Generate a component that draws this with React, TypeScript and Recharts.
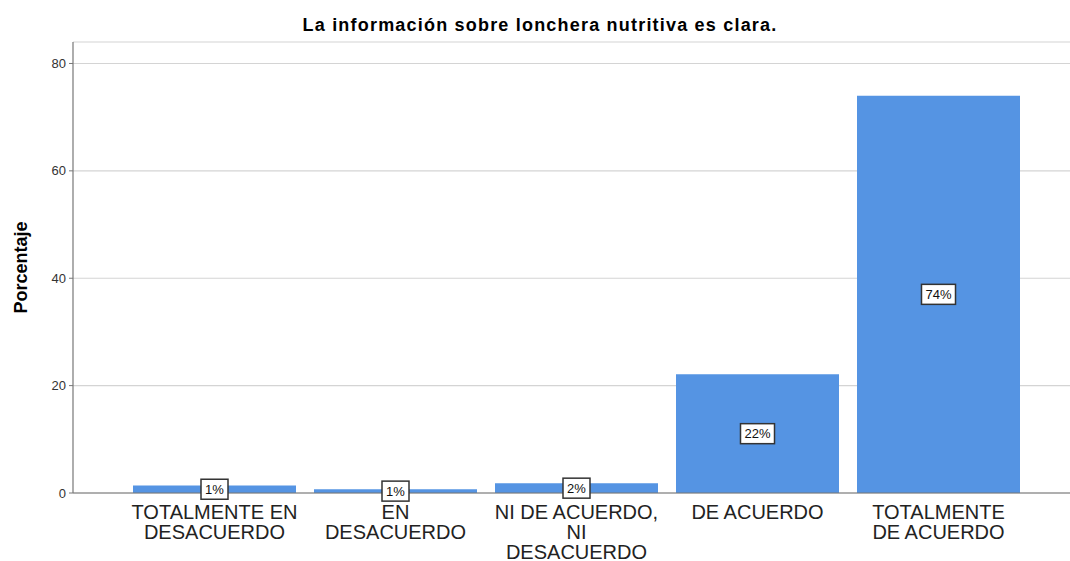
import React from 'react';
import { BarChart, Bar, XAxis, YAxis, CartesianGrid, LabelList } from 'recharts';

const categories = [
  'TOTALMENTE EN DESACUERDO',
  'EN DESACUERDO',
  'NI DE ACUERDO, NI DESACUERDO',
  'DE ACUERDO',
  'TOTALMENTE DE ACUERDO',
];
const tickLines = [
  ['TOTALMENTE EN', 'DESACUERDO'],
  ['EN', 'DESACUERDO'],
  ['NI DE ACUERDO,', 'NI', 'DESACUERDO'],
  ['DE ACUERDO'],
  ['TOTALMENTE', 'DE ACUERDO'],
];
const percentages = [1.4, 0.7, 1.8, 22.1, 74.0];
const yTicks = [0, 20, 40, 60, 80];

const data = categories.map((c, i) => ({ name: c, value: percentages[i] }));

const FONT = '"Liberation Sans", Arial, sans-serif';

const XTick = (props: any) => {
  const { x, y, payload } = props;
  const lines = tickLines[payload.index] || [String(payload.value)];
  return (
    <text x={x} y={y} textAnchor="middle" fontFamily={FONT} fontSize={20} fill="#222">
      {lines.map((l: string, i: number) => (
        <tspan key={i} x={x} y={y + 26 + i * 20}>
          {l}
        </tspan>
      ))}
    </text>
  );
};

const ValueLabel = (props: any) => {
  const { x, y, width, height, value } = props;
  const cx = x + width / 2;
  const cy = y + height / 2;
  const txt = `${Math.round(value)}%`;
  const w = txt.length > 2 ? 34 : 27;
  const h = 20;
  return (
    <g>
      <rect x={cx - w / 2} y={cy - h / 2} width={w} height={h} fill="#fff" stroke="#333" strokeWidth={1.5} />
      <text x={cx} y={cy} textAnchor="middle" dominantBaseline="central" fontFamily={FONT} fontSize={13} fill="#111">
        {txt}
      </text>
    </g>
  );
};

const YLabel = (props: any) => {
  const { viewBox } = props;
  const cx = 21;
  const cy = viewBox.y + viewBox.height / 2;
  return (
    <text
      x={cx}
      y={cy}
      transform={`rotate(-90, ${cx}, ${cy})`}
      textAnchor="middle"
      dominantBaseline="central"
      fontFamily={FONT}
      fontSize={18}
      fontWeight="bold"
      fill="#000"
    >
      Porcentaje
    </text>
  );
};

export default function App() {
  return (
    <div style={{ position: 'absolute', left: 0, top: 0, width: 1070, height: 561, background: '#fff' }}>
      <div
        style={{
          position: 'absolute',
          left: 0,
          top: 14,
          width: 1080,
          textAlign: 'center',
          fontFamily: FONT,
          fontWeight: 'bold',
          fontSize: 18,
          letterSpacing: 1.2,
          color: '#000',
          lineHeight: '22px',
        }}
      >
        La información sobre lonchera nutritiva es clara.
      </div>
      <BarChart
        width={1070}
        height={561}
        data={data}
        margin={{ top: 42, right: 0, left: 0, bottom: 0 }}
        style={{ position: 'absolute', left: 0, top: 0 }}
      >
        <CartesianGrid vertical={false} stroke="#d4d4d4" strokeWidth={1.2} />
        <XAxis
          dataKey="name"
          height={68}
          padding={{ left: 51, right: 41 }}
          tick={<XTick />}
          tickLine={false}
          tickSize={0}
          tickMargin={0}
          interval={0}
          axisLine={{ stroke: '#777', strokeWidth: 1.2 }}
        />
        <YAxis
          width={73}
          domain={[0, 84]}
          ticks={yTicks}
          allowDataOverflow
          tick={{ fontSize: 13, fill: '#333', fontFamily: FONT }}
          tickSize={4}
          tickMargin={3}
          tickLine={{ stroke: '#777' }}
          axisLine={{ stroke: '#777', strokeWidth: 1.2 }}
          label={<YLabel />}
        />
        <Bar dataKey="value" fill="#5594e3" barSize={163} isAnimationActive={false}>
          <LabelList dataKey="value" content={<ValueLabel />} />
        </Bar>
      </BarChart>
    </div>
  );
}
